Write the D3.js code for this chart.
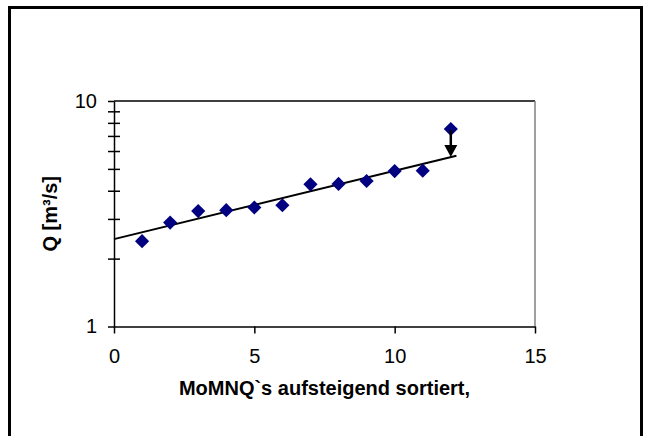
<!DOCTYPE html>
<html>
<head>
<meta charset="utf-8">
<script src="https://cdn.jsdelivr.net/npm/d3@7"></script>
<style>
  body { margin: 0; background: #fff; }
  text { font-family: "Liberation Sans", Arial, sans-serif; }
</style>
</head>
<body>
<div id="viz"></div>
<script>
// data
const rank = [1, 2, 3, 4, 5, 6, 7, 8, 9, 10, 11, 12]
const discharge = [2.39, 2.89, 3.25, 3.28, 3.37, 3.45, 4.27, 4.29, 4.42, 4.89, 4.91, 7.51]
const trendX = [0, 12.2]
const trendQ = [2.44, 5.72]
const arrowX = 12
const arrowFrom = 7.51
const arrowTo = 5.65
const xTicks = [0, 5, 10, 15]
const yMajor = [1, 10]
const yMinor = [2, 3, 4, 5, 6, 7, 8, 9]

document.addEventListener("DOMContentLoaded", () => {

    const width = 648
    const height = 436
    const left = 114, right = 535, top = 101, bottom = 326.5

    const svg = d3.select("#viz").append("svg")
        .attr("width", width)
        .attr("height", height)

    svg.append("rect")
        .attr("width", width).attr("height", height)
        .attr("fill", "#fff")

    // outer chart border
    svg.append("rect")
        .attr("x", 9.5).attr("y", 7.5)
        .attr("width", 632).attr("height", 440)
        .attr("fill", "none")
        .attr("stroke", "#000")
        .attr("stroke-width", 3)

    const x = d3.scaleLinear().domain([0, 15]).range([left, right])
    const y = d3.scaleLog().domain([1, 10]).range([bottom, top])

    // plot area border (top and right)
    svg.append("line")
        .attr("x1", left).attr("x2", right)
        .attr("y1", top).attr("y2", top)
        .attr("stroke", "#000").attr("stroke-width", 1.5)
    svg.append("line")
        .attr("x1", right).attr("x2", right)
        .attr("y1", top).attr("y2", bottom)
        .attr("stroke", "#808080").attr("stroke-width", 1.5)

    // x axis
    const xAxis = svg.append("g")
        .attr("transform", `translate(0,${bottom})`)
        .call(d3.axisBottom(x).tickValues(xTicks).tickSize(7).tickPadding(15).tickSizeOuter(0))
    xAxis.select(".domain").attr("stroke-width", 1.5)
    xAxis.selectAll(".tick line").attr("stroke-width", 1.5)
    xAxis.selectAll("text").attr("font-size", 20).attr("fill", "#000")

    // y axis (log)
    const yAxis = svg.append("g")
        .attr("transform", `translate(${left},0)`)
        .call(d3.axisLeft(y).tickValues(yMajor).tickFormat(d3.format("d"))
            .tickSize(6).tickPadding(11).tickSizeOuter(0))
    yAxis.select(".domain").attr("stroke-width", 1.5)
    yAxis.selectAll(".tick line").attr("stroke-width", 1.5)
    yAxis.selectAll("text").attr("font-size", 20).attr("fill", "#000")

    // minor ticks crossing the axis
    const yMinorAxis = svg.append("g")
        .attr("transform", `translate(${left + 6},0)`)
        .call(d3.axisLeft(y).tickValues(yMinor).tickFormat("").tickSize(12).tickSizeOuter(0))
    yMinorAxis.select(".domain").remove()
    yMinorAxis.selectAll(".tick line").attr("stroke-width", 1.5)

    // axis titles
    svg.append("text")
        .text("MoMNQ`s aufsteigend sortiert,")
        .attr("x", (left + right) / 2)
        .attr("y", 395)
        .attr("text-anchor", "middle")
        .attr("font-size", 20)
        .attr("font-weight", "bold")

    svg.append("text")
        .text("Q [m³/s]")
        .attr("transform", `translate(57,${(top + bottom) / 2}) rotate(-90)`)
        .attr("text-anchor", "middle")
        .attr("font-size", 20)
        .attr("font-weight", "bold")

    // trend line
    svg.append("path")
        .datum(d3.zip(trendX, trendQ))
        .attr("d", d3.line().x(d => x(d[0])).y(d => y(d[1])))
        .attr("fill", "none")
        .attr("stroke", "#000")
        .attr("stroke-width", 2)

    // data markers
    const pts = d3.zip(rank, discharge)
    svg.append("g").selectAll("path")
        .data(pts)
        .join("path")
        .attr("transform", d => `translate(${x(d[0])},${y(d[1])}) rotate(45)`)
        .attr("d", d3.symbol().type(d3.symbolSquare).size(100))
        .attr("fill", "#000080")

    // arrow from the outlier down to the trend line
    const ax = x(arrowX)
    const yTip = y(arrowTo)
    svg.append("line")
        .attr("x1", ax).attr("x2", ax)
        .attr("y1", y(arrowFrom) + 1).attr("y2", yTip - 10)
        .attr("stroke", "#000").attr("stroke-width", 2.5)
    svg.append("path")
        .attr("d", `M${ax - 6.5},${yTip - 12} L${ax + 6.5},${yTip - 12} L${ax},${yTip} Z`)
        .attr("fill", "#000")

})
</script>
</body>
</html>
